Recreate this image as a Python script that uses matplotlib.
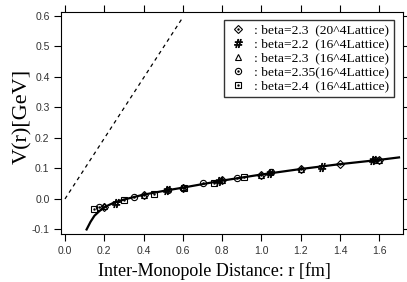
import matplotlib.pyplot as plt
import numpy as np

# fit curve
fit_r = [0.11, 0.13, 0.15, 0.175, 0.2, 0.25, 0.3, 0.4, 0.5, 0.6, 0.8, 1.0, 1.2, 1.4, 1.6, 1.7]
fit_v = [-0.100, -0.075, -0.055, -0.040, -0.027, -0.012, -0.002, 0.014, 0.026, 0.037,
         0.060, 0.080, 0.098, 0.114, 0.128, 0.136]

# dashed reference line
dash_r = [0.0, 0.6]
dash_v = [0.0, 0.595]

# lattice data
r_b23_20 = [0.2, 0.4, 0.6, 0.8, 1.0, 1.2, 1.4, 1.6]
v_b23_20 = [-0.025, 0.013, 0.037, 0.061, 0.079, 0.097, 0.114, 0.127]
r_b22 = [0.26, 0.52, 0.785, 1.045, 1.307, 1.57]
v_b22 = [-0.012, 0.030, 0.060, 0.084, 0.104, 0.126]
r_b23_16 = [0.2, 0.4, 0.6, 0.8, 1.0, 1.2, 1.6]
v_b23_16 = [-0.024, 0.014, 0.038, 0.062, 0.080, 0.098, 0.128]
r_b235 = [0.175, 0.35, 0.525, 0.70, 0.875, 1.05, 1.58]
v_b235 = [-0.028, 0.006, 0.030, 0.051, 0.068, 0.088, 0.127]
r_b24 = [0.15, 0.30, 0.455, 0.605, 0.76, 0.91]
v_b24 = [-0.032, -0.003, 0.017, 0.036, 0.053, 0.072]

labels = [': beta=2.3  (20^4Lattice)', ': beta=2.2  (16^4Lattice)',
          ': beta=2.3  (16^4Lattice)', ': beta=2.35(16^4Lattice)',
          ': beta=2.4  (16^4Lattice)']

fig = plt.figure(figsize=(4.07, 2.82), dpi=100)
ax = fig.add_axes([0.150, 0.169, 0.840, 0.787])

ax.plot(dash_r, dash_v, color='black', lw=0.9, ls=(0, (3, 3)))
ax.plot(fit_r, fit_v, color='black', lw=1.6)

ms = 4.5
kw = dict(ls='none', color='black', mfc='none', mew=0.8)
h1 = ax.plot(r_b23_20, v_b23_20, marker='D', ms=ms - 0.8, **kw)[0]
d1 = ax.plot(r_b23_20, v_b23_20, marker='.', ms=1.5, ls='none', color='black')[0]
h2 = ax.plot(r_b22, v_b22, marker='$\\#$', ms=6, ls='none', color='black', mew=0.6)[0]
h3 = ax.plot(r_b23_16, v_b23_16, marker='^', ms=ms, **kw)[0]
h4 = ax.plot(r_b235, v_b235, marker='o', ms=ms, **kw)[0]
d4 = ax.plot(r_b235, v_b235, marker='.', ms=1.5, ls='none', color='black')[0]
h5 = ax.plot(r_b24, v_b24, marker='s', ms=ms, **kw)[0]
d5 = ax.plot(r_b24, v_b24, marker='.', ms=1.5, ls='none', color='black')[0]
handles = [(h1, d1), h2, h3, (h4, d4), (h5, d5)]

leg = ax.legend(handles, labels, loc='upper left', bbox_to_anchor=(0.477, 0.966),
                borderaxespad=0, frameon=True, fancybox=False, handlelength=1.5,
                handletextpad=0.45, borderpad=0.3, labelspacing=0.12,
                prop={'family': 'Liberation Serif', 'size': 9.7})
leg.get_frame().set_edgecolor('black')
leg.get_frame().set_linewidth(1.0)

ax.set_xlim(-0.02, 1.72)
ax.set_ylim(-0.116, 0.611)
ax.set_xticks(np.arange(0, 1.61, 0.2))
ax.set_yticks(np.arange(-0.1, 0.61, 0.1))
ax.set_xticklabels(['%.1f' % t for t in np.arange(0, 1.61, 0.2)])
ax.set_yticklabels(['%.1f' % t for t in np.arange(-0.1, 0.61, 0.1)])
ax.tick_params(direction='out', length=4.8, width=0.8, top=True, right=True,
               labelsize=7.5, labelcolor='#333333', pad=3.5)
for lab in ax.get_xticklabels() + ax.get_yticklabels():
    lab.set_family('Liberation Sans')
for sp in ax.spines.values():
    sp.set_linewidth(0.8)

ax.set_xlabel('Inter-Monopole Distance: r [fm]', family='Liberation Serif', fontsize=13)
ax.xaxis.set_label_coords(0.449, -0.125)
ax.set_ylabel('V(r)[GeV]', family='Liberation Serif', fontsize=16)
ax.yaxis.set_label_coords(-0.085, 0.533)

fig.savefig('out.png', dpi=100)
